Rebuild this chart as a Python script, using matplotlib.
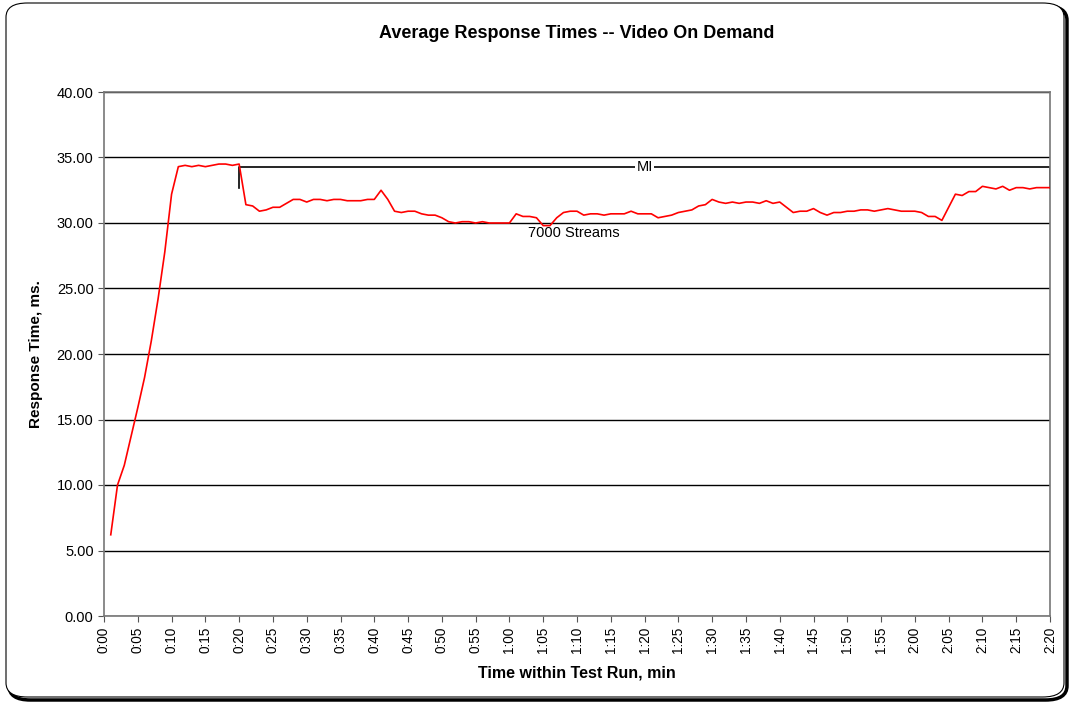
import numpy as np
import matplotlib.pyplot as plt
from matplotlib.patches import FancyBboxPatch

plt.rcParams['font.family'] = ['Liberation Sans', 'DejaVu Sans']

# one sample per minute, 0:01 .. 2:20
minutes = list(range(1, 141))
resp = [6.2, 10.0, 11.5, 13.7, 15.9, 18.2, 21.0, 24.2, 27.8, 32.2,
        34.3, 34.4, 34.3, 34.4, 34.3, 34.4, 34.5, 34.5, 34.4, 34.5,
        31.4, 31.3, 30.9, 31.0, 31.2, 31.2, 31.5, 31.8, 31.8, 31.6,
        31.8, 31.8, 31.7, 31.8, 31.8, 31.7, 31.7, 31.7, 31.8, 31.8,
        32.5, 31.8, 30.9, 30.8, 30.9, 30.9, 30.7, 30.6, 30.6, 30.4,
        30.1, 30.0, 30.1, 30.1, 30.0, 30.1, 30.0, 30.0, 30.0, 30.0,
        30.7, 30.5, 30.5, 30.4, 29.8, 29.8, 30.4, 30.8, 30.9, 30.9,
        30.6, 30.7, 30.7, 30.6, 30.7, 30.7, 30.7, 30.9, 30.7, 30.7,
        30.7, 30.4, 30.5, 30.6, 30.8, 30.9, 31.0, 31.3, 31.4, 31.8,
        31.6, 31.5, 31.6, 31.5, 31.6, 31.6, 31.5, 31.7, 31.5, 31.6,
        31.2, 30.8, 30.9, 30.9, 31.1, 30.8, 30.6, 30.8, 30.8, 30.9,
        30.9, 31.0, 31.0, 30.9, 31.0, 31.1, 31.0, 30.9, 30.9, 30.9,
        30.8, 30.5, 30.5, 30.2, 31.2, 32.2, 32.1, 32.4, 32.4, 32.8,
        32.7, 32.6, 32.8, 32.5, 32.7, 32.7, 32.6, 32.7, 32.7, 32.7]

xticks = list(range(0, 141, 5))
xlabels = ["%d:%02d" % (m // 60, m % 60) for m in xticks]

# MI bracket: start, end, level, end heights
mi_start, mi_end, mi_level = 20, 140, 34.25
mi_left_low, mi_right_low = 32.65, 32.65

fig = plt.figure(figsize=(10.71, 7.08), dpi=100)
ax = fig.add_axes([104 / 1071, 1 - 616 / 708, 946 / 1071, 524 / 708])

# frame around the whole chart
fig.patches.append(FancyBboxPatch((9 / 1071, 8 / 708), 1058 / 1071, 694 / 708,
                                  boxstyle="round,pad=0,rounding_size=0.02",
                                  transform=fig.transFigure, fc='none',
                                  ec='black', lw=2.5, zorder=-2))
fig.patches.append(FancyBboxPatch((6 / 1071, 11 / 708), 1058 / 1071, 694 / 708,
                                  boxstyle="round,pad=0,rounding_size=0.02",
                                  transform=fig.transFigure, fc='white',
                                  ec='black', lw=0.8, zorder=-1))

ax.plot(minutes, resp, color='red', lw=1.2, zorder=3)

# MI bracket
ax.plot([mi_start, mi_start, mi_end, mi_end],
        [mi_left_low, mi_level, mi_level, mi_right_low],
        color='black', lw=1.2, zorder=2)
ax.text((mi_start + mi_end) / 2, mi_level, "MI", ha='center', va='center',
        fontsize=10.5, bbox=dict(fc='white', ec='none', pad=1), zorder=4)
ax.text(69.5, 29.75, "7000 Streams", ha='center', va='top', fontsize=10.5)

ax.set_xlim(0, 140)
ax.set_ylim(0, 40)
ax.set_yticks(np.arange(0, 41, 5))
ax.set_yticklabels(["%.2f" % v for v in np.arange(0, 41, 5)], fontsize=10.5)
ax.set_xticks(xticks)
ax.set_xticklabels(xlabels, rotation=90, fontsize=9.8)
ax.tick_params(direction='out', length=4, color='#555555')
ax.grid(axis='y', color='black', lw=1)
ax.set_axisbelow(True)
for s in ax.spines.values():
    s.set_color('#777777')
    s.set_linewidth(1.2)

ax.set_title("Average Response Times -- Video On Demand", fontsize=13,
             fontweight='bold', pad=39)
ax.set_ylabel("Response Time, ms.", fontsize=11, fontweight='bold', labelpad=10)
ax.set_xlabel("Time within Test Run, min", fontsize=11.5, fontweight='bold', labelpad=9)

fig.savefig("out.png", dpi=100)
